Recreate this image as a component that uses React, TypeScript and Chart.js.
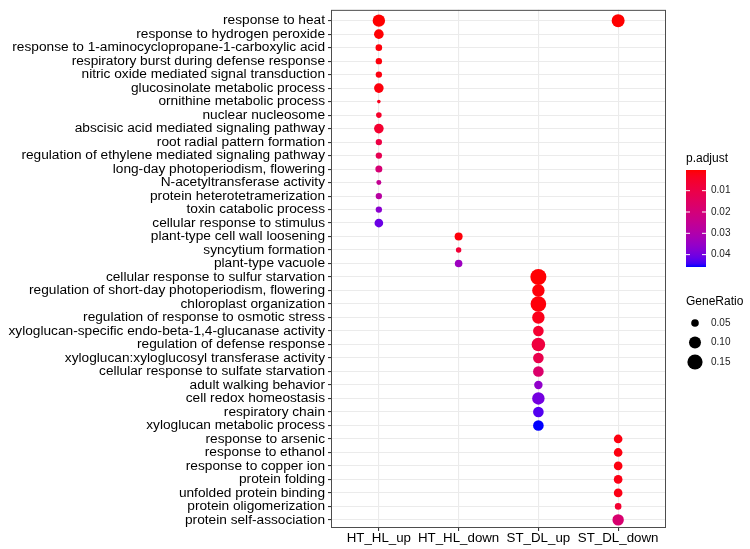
import React, { useEffect, useRef } from "react";
import { Chart, registerables } from "chart.js";

Chart.register(...registerables);

const terms = [
  "response to heat",
  "response to hydrogen peroxide",
  "response to 1-aminocyclopropane-1-carboxylic acid",
  "respiratory burst during defense response",
  "nitric oxide mediated signal transduction",
  "glucosinolate metabolic process",
  "ornithine metabolic process",
  "nuclear nucleosome",
  "abscisic acid mediated signaling pathway",
  "root radial pattern formation",
  "regulation of ethylene mediated signaling pathway",
  "long-day photoperiodism, flowering",
  "N-acetyltransferase activity",
  "protein heterotetramerization",
  "toxin catabolic process",
  "cellular response to stimulus",
  "plant-type cell wall loosening",
  "syncytium formation",
  "plant-type vacuole",
  "cellular response to sulfur starvation",
  "regulation of short-day photoperiodism, flowering",
  "chloroplast organization",
  "regulation of response to osmotic stress",
  "xyloglucan-specific endo-beta-1,4-glucanase activity",
  "regulation of defense response",
  "xyloglucan:xyloglucosyl transferase activity",
  "cellular response to sulfate starvation",
  "adult walking behavior",
  "cell redox homeostasis",
  "respiratory chain",
  "xyloglucan metabolic process",
  "response to arsenic",
  "response to ethanol",
  "response to copper ion",
  "protein folding",
  "unfolded protein binding",
  "protein oligomerization",
  "protein self-association",
];

const groups = ["HT_HL_up", "HT_HL_down", "ST_DL_up", "ST_DL_down"];

const htHlUpTerms = terms.slice(0, 16);
const htHlUpRatio = [0.106, 0.07, 0.042, 0.04, 0.04, 0.07, 0.024, 0.035, 0.07, 0.04, 0.04, 0.045, 0.031, 0.04, 0.04, 0.06];
const htHlUpPadj = [0.0003, 0.0005, 0.001, 0.0012, 0.0015, 0.0012, 0.003, 0.005, 0.0058, 0.0094, 0.012, 0.019, 0.025, 0.028, 0.037, 0.041];

const htHlDownTerms = ["plant-type cell wall loosening", "syncytium formation", "plant-type vacuole"];
const htHlDownRatio = [0.054, 0.034, 0.05];
const htHlDownPadj = [0.001, 0.007, 0.034];

const stDlUpTerms = terms.slice(19, 31);
const stDlUpRatio = [0.165, 0.106, 0.158, 0.106, 0.082, 0.124, 0.082, 0.082, 0.058, 0.106, 0.082, 0.082];
const stDlUpPadj = [0.0005, 0.001, 0.001, 0.0025, 0.006, 0.0085, 0.011, 0.017, 0.036, 0.04, 0.043, 0.0458];

const stDlDownTerms = ["response to heat", ...terms.slice(31)];
const stDlDownRatio = [0.114, 0.06, 0.06, 0.06, 0.06, 0.06, 0.042, 0.092];
const stDlDownPadj = [0.0003, 0.0015, 0.0015, 0.0015, 0.002, 0.002, 0.006, 0.018];

const padjTicks = [0.01, 0.02, 0.03, 0.04];
const ratioBreaks = [0.05, 0.1, 0.15];

const FONT = '"Liberation Sans", Arial, Helvetica, sans-serif';

// ---- colour (Lab interpolation red -> blue, like ggplot) ----
const Xn = 0.95047, Yn = 1, Zn = 1.08883;
function lin(c: number) {
  c /= 255;
  return c <= 0.04045 ? c / 12.92 : Math.pow((c + 0.055) / 1.055, 2.4);
}
function gam(c: number) {
  const v = c <= 0.0031308 ? 12.92 * c : 1.055 * Math.pow(Math.max(c, 0), 1 / 2.4) - 0.055;
  return Math.round(Math.max(0, Math.min(1, v)) * 255);
}
function rgbToLab(rgb: number[]) {
  const [r, g, b] = rgb.map(lin);
  const x = (0.4124 * r + 0.3576 * g + 0.1805 * b) / Xn;
  const y = (0.2126 * r + 0.7152 * g + 0.0722 * b) / Yn;
  const z = (0.0193 * r + 0.1192 * g + 0.9505 * b) / Zn;
  const f = (t: number) => (t > 216 / 24389 ? Math.cbrt(t) : ((24389 / 27) * t + 16) / 116);
  const fx = f(x), fy = f(y), fz = f(z);
  return [116 * fy - 16, 500 * (fx - fy), 200 * (fy - fz)];
}
function labToRgb(lab: number[]) {
  const [L, a, b] = lab;
  const fy = (L + 16) / 116, fx = fy + a / 500, fz = fy - b / 200;
  const finv = (t: number) => (t * t * t > 216 / 24389 ? t * t * t : (116 * t - 16) / (24389 / 27));
  const x = finv(fx) * Xn, y = finv(fy) * Yn, z = finv(fz) * Zn;
  const r = 3.2406 * x - 1.5372 * y - 0.4986 * z;
  const g = -0.9689 * x + 1.8758 * y + 0.0415 * z;
  const bb = 0.0557 * x - 0.204 * y + 1.057 * z;
  return `rgb(${gam(r)},${gam(g)},${gam(bb)})`;
}
const LOW_LAB = rgbToLab([255, 0, 0]);
const HIGH_LAB = rgbToLab([0, 0, 255]);
function rampColor(t: number) {
  const u = Math.max(0, Math.min(1, t));
  return labToRgb(LOW_LAB.map((v, i) => v + (HIGH_LAB[i] - v) * u));
}

// ---- size (area scale) ----
function radiusOf(g: number) {
  return 20.8 * Math.sqrt(Math.max(0, g - 0.0167));
}

export default function App() {
  const ref = useRef<HTMLCanvasElement>(null);

  useEffect(() => {
    if (!ref.current) return;
    const allPadj = [...htHlUpPadj, ...htHlDownPadj, ...stDlUpPadj, ...stDlDownPadj];
    const pMin = Math.min(...allPadj);
    const pMax = Math.max(...allPadj);
    const tOf = (p: number) => (p - pMin) / (pMax - pMin);

    const build = (gi: number, tl: string[], rl: number[], pl: number[]) =>
      tl.map((t, i) => ({ x: gi, y: terms.indexOf(t), g: rl[i], p: pl[i] }));
    const points = [
      ...build(0, htHlUpTerms, htHlUpRatio, htHlUpPadj),
      ...build(1, htHlDownTerms, htHlDownRatio, htHlDownPadj),
      ...build(2, stDlUpTerms, stDlUpRatio, stDlUpPadj),
      ...build(3, stDlDownTerms, stDlDownRatio, stDlDownPadj),
    ];

    const legendPlugin = {
      id: "ggLegend",
      afterDraw(chart: any) {
        const ctx = chart.ctx as CanvasRenderingContext2D;
        const a = chart.chartArea;
        ctx.save();
        // panel border
        ctx.strokeStyle = "#4d4d4d";
        ctx.lineWidth = 1;
        ctx.strokeRect(a.left + 0.5, a.top + 0.5, a.right - a.left - 1, a.bottom - a.top - 1);

        // p.adjust colourbar
        ctx.fillStyle = "#000";
        ctx.textBaseline = "middle";
        ctx.textAlign = "left";
        ctx.font = `12px ${FONT}`;
        ctx.fillText("p.adjust", 686, 159);
        const bx = 686, by = 170, bw = 20, bh = 97;
        const grad = ctx.createLinearGradient(0, by, 0, by + bh);
        for (let i = 0; i <= 30; i++) grad.addColorStop(i / 30, rampColor(i / 30));
        ctx.fillStyle = grad;
        ctx.fillRect(bx, by, bw, bh);
        ctx.font = `10px ${FONT}`;
        padjTicks.forEach((v) => {
          const y = by + tOf(v) * bh;
          ctx.strokeStyle = "#fff";
          ctx.lineWidth = 1;
          ctx.beginPath();
          ctx.moveTo(bx, y);
          ctx.lineTo(bx + 4, y);
          ctx.moveTo(bx + bw - 4, y);
          ctx.lineTo(bx + bw, y);
          ctx.stroke();
          ctx.fillStyle = "#222";
          ctx.fillText(v.toFixed(2), 711, y);
        });

        // GeneRatio size legend
        ctx.fillStyle = "#000";
        ctx.font = `12px ${FONT}`;
        ctx.fillText("GeneRatio", 686, 302);
        const keyY = [323, 342.5, 362];
        ctx.font = `10px ${FONT}`;
        ratioBreaks.forEach((v, i) => {
          ctx.fillStyle = "#000";
          ctx.beginPath();
          ctx.arc(695, keyY[i], radiusOf(v), 0, Math.PI * 2);
          ctx.fill();
          ctx.fillStyle = "#222";
          ctx.fillText(v.toFixed(2), 711, keyY[i]);
        });
        ctx.restore();
      },
    };

    const chart = new Chart(ref.current, {
      type: "scatter",
      data: {
        datasets: [
          {
            data: points as any,
            pointRadius: (c: any) => radiusOf(c.raw.g),
            pointHoverRadius: (c: any) => radiusOf(c.raw.g),
            pointBackgroundColor: (c: any) => rampColor(tOf(c.raw.p)),
            pointBorderWidth: 0,
            pointBorderColor: "rgba(0,0,0,0)",
          },
        ],
      },
      options: {
        animation: false,
        responsive: false,
        devicePixelRatio: 1,
        layout: { padding: { left: 0, right: 84, top: 5, bottom: 0 } },
        plugins: { legend: { display: false }, tooltip: { enabled: false } },
        scales: {
          x: {
            type: "linear",
            min: -0.6,
            max: 3.6,
            afterBuildTicks: (s: any) => {
              s.ticks = groups.map((_, i) => ({ value: i }));
            },
            afterFit: (s: any) => {
              s.height = 21;
            },
            grid: { color: "#EBEBEB", lineWidth: 1.1, tickColor: "#333", tickLength: 3, drawTicks: true },
            border: { display: false },
            ticks: {
              autoSkip: false,
              maxRotation: 0,
              padding: 1,
              color: "#000",
              font: { family: FONT, size: 13.3, lineHeight: 1 },
              callback: (v: any) => groups[Math.round(Number(v))] ?? "",
            },
          },
          y: {
            type: "linear",
            reverse: true,
            min: -0.8,
            max: 37.6,
            afterBuildTicks: (s: any) => {
              s.ticks = terms.map((_, i) => ({ value: i }));
            },
            afterFit: (s: any) => {
              s.width = 331;
            },
            grid: { color: "#EBEBEB", lineWidth: 1.1, tickColor: "#333", tickLength: 3, drawTicks: true },
            border: { display: false },
            ticks: {
              autoSkip: false,
              padding: 3,
              color: "#000",
              font: { family: FONT, size: 13.7, lineHeight: 1 },
              callback: (v: any) => terms[Math.round(Number(v))] ?? "",
            },
          },
        },
      },
      plugins: [legendPlugin],
    } as any);

    return () => chart.destroy();
  }, []);

  return (
    <div style={{ position: "absolute", left: 0, top: 0, width: 750, height: 549, background: "#fff" }}>
      <canvas ref={ref} width={750} height={549} style={{ display: "block" }} />
    </div>
  );
}
